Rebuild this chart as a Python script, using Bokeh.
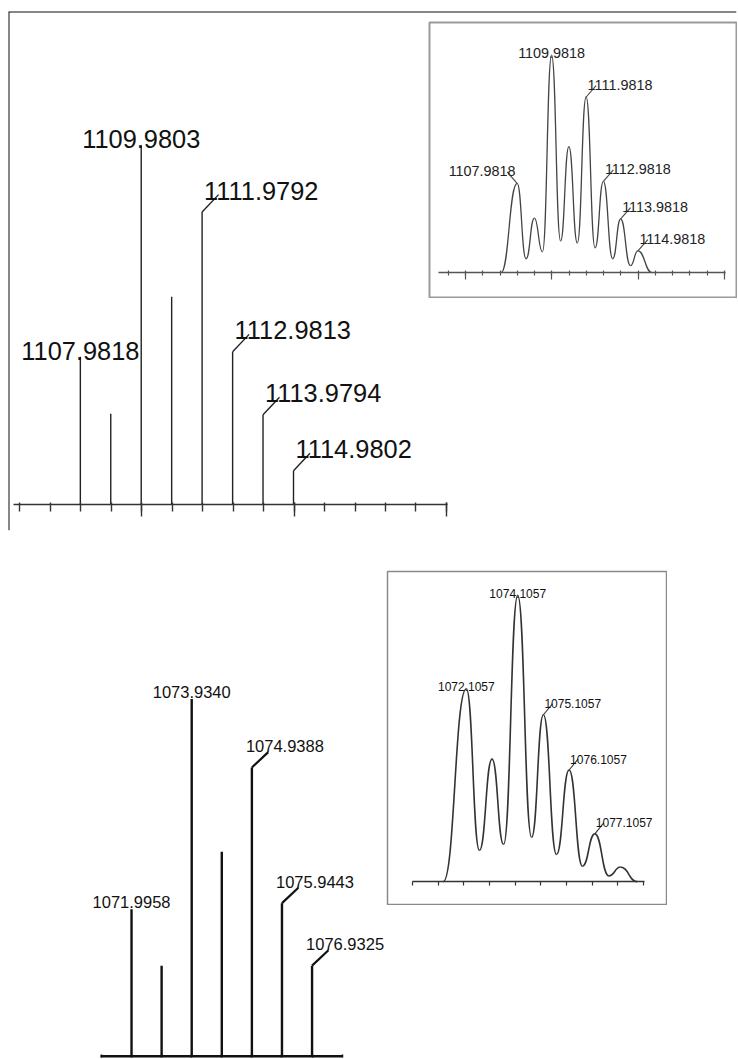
from bokeh.plotting import figure
from bokeh.models import ColumnDataSource, LinearAxis, FixedTicker, Range1d, Span, GridBox
from bokeh.core.properties import value
from bokeh.embed import file_html
from bokeh.resources import INLINE

FONT = "Liberation Sans"

# ---------------- data ----------------
# top: stick spectrum (relative intensity, %)
top_stick_mz = [1107.9818, 1108.98, 1109.9803, 1110.98, 1111.9792, 1112.9813, 1113.9794, 1114.9802]
top_stick_int = [41.1, 25.3, 100.0, 57.8, 81.4, 42.5, 25.0, 9.4]
top_stick_labels = ["1107.9818", "", "1109.9803", "", "1111.9792", "1112.9813", "1113.9794", "1114.9802"]
top_stick_kind = ["c", "", "c", "", "r", "r", "r", "r"]

# top: inset profile (peaks and valleys)
top_profile_mz = [1107.05, 1107.98, 1108.50, 1108.98, 1109.45, 1109.98, 1110.50, 1110.98, 1111.47,
                  1111.98, 1112.50, 1112.98, 1113.52, 1113.98, 1114.55, 1114.98, 1115.80]
top_profile_int = [0.0, 41.1, 6.4, 25.1, 9.6, 100.0, 14.6, 58.0, 13.7,
                   80.8, 11.4, 42.0, 6.4, 24.7, 3.2, 10.0, 0.0]
top_profile_labels = ["1107.9818", "1109.9818", "1111.9818", "1112.9818", "1113.9818", "1114.9818"]
top_profile_kind = ["l", "c", "r", "r", "r", "r"]

# bottom: stick spectrum
bot_stick_mz = [1072.0, 1073.0, 1074.0, 1075.0, 1076.0, 1077.0, 1078.0]
bot_stick_int = [41.1, 25.3, 100.0, 57.2, 80.8, 42.8, 25.3]
bot_stick_labels = ["1071.9958", "", "1073.9340", "", "1074.9388", "1075.9443", "1076.9325"]
bot_stick_kind = ["c", "", "c", "", "r", "r", "r"]

# bottom: inset profile
bot_profile_mz = [1071.20, 1072.10, 1072.61, 1073.10, 1073.55, 1074.10, 1074.64, 1075.10,
                  1075.61, 1076.10, 1076.62, 1077.10, 1077.65, 1078.10, 1078.75]
bot_profile_int = [0.0, 67.4, 10.9, 42.8, 13.0, 100.0, 15.5, 58.3,
                   9.5, 39.0, 5.4, 16.7, 2.0, 5.1, 0.0]
bot_profile_labels = ["1072.1057", "1074.1057", "1075.1057", "1076.1057", "1077.1057"]
bot_profile_kind = ["c", "c", "r", "r", "r"]

# axis ticks
top_major = [1110, 1115, 1120]
top_minor = list(range(1106, 1121))
inset_top_major = [1105, 1110, 1115, 1120]
inset_top_minor = list(range(1104, 1121))
bot_major = list(range(1071, 1080))
inset_bot_major = list(range(1070, 1080))


# ---------------- helpers ----------------
def xr(anchor_val, anchor_px, scale, lo_px, hi_px):
    return Range1d(anchor_val - (anchor_px - lo_px) / scale, anchor_val + (hi_px - anchor_px) / scale)


def yr(zero_px, scale, top_px, bottom_px):
    return Range1d(-(bottom_px - zero_px) / scale, (zero_px - top_px) / scale)


def make_fig(w, h, x_range, y_range, border, outline=None, outline_w=1.0):
    p = figure(width=w, height=h, x_range=x_range, y_range=y_range,
               x_axis_type=None, y_axis_type=None,
               toolbar_location=None, output_backend="svg",
               min_border_top=border[0], min_border_right=border[1],
               min_border_bottom=border[2], min_border_left=border[3],
               background_fill_color="white", border_fill_color="white",
               outline_line_color=outline, outline_line_width=outline_w)
    return p


def add_axis(p, ticks, minor, bounds, color, width, maj_in, maj_out, min_in, min_out, tick_w):
    ax = LinearAxis(fixed_location=0, bounds=bounds,
                    ticker=FixedTicker(ticks=ticks, minor_ticks=minor),
                    axis_line_color=color, axis_line_width=width,
                    major_tick_line_color=color, major_tick_line_width=tick_w,
                    minor_tick_line_color=color, minor_tick_line_width=tick_w,
                    major_tick_in=maj_in, major_tick_out=maj_out,
                    minor_tick_in=min_in, minor_tick_out=min_out,
                    major_label_overrides={t: "" for t in ticks},
                    major_label_text_font_size="0px")
    p.add_layout(ax, "below")


def add_labels(p, xs, ys, texts, kinds, size, color, xscale, yscale,
               gap, lead_dx, lead_dy, lab_dx, lab_dy, lcolor, lwidth):
    c = dict(x=[], y=[], t=[])
    r = dict(x=[], y=[], t=[])
    l = dict(x=[], y=[], t=[])
    seg = dict(x0=[], y0=[], x1=[], y1=[])
    for x, y, t, k in zip(xs, ys, texts, kinds):
        if not t:
            continue
        if k == "c":
            c["x"].append(x); c["y"].append(y); c["t"].append(t)
        else:
            sgn = 1 if k == "r" else -1
            x1 = x + sgn * lead_dx / xscale
            y1 = y + lead_dy / yscale
            seg["x0"].append(x); seg["y0"].append(y); seg["x1"].append(x1); seg["y1"].append(y1)
            d = r if k == "r" else l
            d["x"].append(x); d["y"].append(y1); d["t"].append(t)
    common = dict(text_font=value(FONT), text_font_size=value(size), text_color=color,
                  text_baseline="alphabetic")
    if seg["x0"]:
        p.segment(x0="x0", y0="y0", x1="x1", y1="y1", source=ColumnDataSource(seg),
                  line_color=lcolor, line_width=lwidth)
    if c["x"]:
        p.text(x="x", y="y", text="t", source=ColumnDataSource(c), text_align="center",
               y_offset=-gap, **common)
    if r["x"]:
        p.text(x="x", y="y", text="t", source=ColumnDataSource(r), text_align="left",
               x_offset=lab_dx, y_offset=-lab_dy, **common)
    if l["x"]:
        p.text(x="x", y="y", text="t", source=ColumnDataSource(l), text_align="right",
               x_offset=-lab_dx, y_offset=-lab_dy, **common)


def add_profile(p, xs, ys, color, width, k=0.5):
    x0, x1, y0, y1 = xs[:-1], xs[1:], ys[:-1], ys[1:]
    cx0 = [a + k * (b - a) for a, b in zip(x0, x1)]
    cx1 = [b - k * (b - a) for a, b in zip(x0, x1)]
    p.bezier(x0=x0, y0=y0, x1=x1, y1=y1, cx0=cx0, cy0=y0, cx1=cx1, cy1=y1,
             line_color=color, line_width=width)


def peak_heights(labels, pmz, pint):
    out_x, out_y = [], []
    for t in labels:
        v = float(t)
        i = min(range(len(pmz)), key=lambda j: abs(pmz[j] - v))
        out_x.append(pmz[i]); out_y.append(pint[i])
    return out_x, out_y


# Page coordinates below are absolute (the page template has no body margin).

# ---------------- panel A: top stick spectrum ----------------
AXS, AYS = 30.5, 3.6
A = make_fig(731, 523, xr(1106, 19.5, AXS, 8, 737), yr(505, AYS, 11, 531), (3, 0, 0, 2))
A.segment(x0=top_stick_mz, y0=[0] * len(top_stick_mz), x1=top_stick_mz, y1=top_stick_int,
          line_color="#222222", line_width=1.4)
add_axis(A, top_major, top_minor, (1105.8, 1120.05), "#333333", 1.5, 2, 12, 2, 7, 1.4)
add_labels(A, top_stick_mz, top_stick_int, top_stick_labels, top_stick_kind, "25.4px", "#111111",
           AXS, AYS, 6, 16.5, 17.5, 2, 4, "#222222", 1.4)
A.add_layout(Span(location=A.y_range.end, dimension="width", line_color="#111111", line_width=2))
A.add_layout(Span(location=A.x_range.start, dimension="height", line_color="#111111", line_width=2))

# ---------------- panel B: top inset profile ----------------
BXS, BYS = 17.31, 2.19
B = make_fig(310, 279, xr(1104, 447, BXS, 428, 736), yr(272, BYS, 20, 297), (1, 1, 1, 1),
             outline="#9a9a9a", outline_w=2)
add_axis(B, inset_top_major, inset_top_minor, (1103.45, 1120.05), "#555555", 1.3, 1, 7, 2, 3, 1.2)
add_profile(B, top_profile_mz, top_profile_int, "#444444", 1.3)
bx, by = peak_heights(top_profile_labels, top_profile_mz, top_profile_int)
add_labels(B, bx, by, top_profile_labels, top_profile_kind, "14.4px", "#222222",
           BXS, BYS, 2, 10, 11.5, 1.5, 1, "#444444", 1.1)

# ---------------- panel C: bottom stick spectrum ----------------
CXS, CYS = 30.33, 3.6
C = make_fig(377, 498, xr(1072, 130, CXS, 8, 385), yr(1056.5, CYS, 560, 1058), (0, 0, 0, 0))
C.segment(x0=bot_stick_mz, y0=[0] * len(bot_stick_mz), x1=bot_stick_mz, y1=bot_stick_int,
          line_color="#111111", line_width=2.4)
add_axis(C, bot_major, [], (1070.98, 1079.02), "#111111", 3, 2, 2, 0, 0, 1.5)
add_labels(C, bot_stick_mz, bot_stick_int, bot_stick_labels, bot_stick_kind, "16.5px", "#111111",
           CXS, CYS, 7, 16.5, 15.5, -6, 6, "#111111", 2.2)

# ---------------- panel D: bottom inset profile ----------------
DXS, DYS = 25.78, 2.88
D = make_fig(282, 337, xr(1070, 411, DXS, 386, 666), yr(881, DYS, 569, 904), (1, 1, 1, 1),
             outline="#8a8a8a", outline_w=1.5)
add_axis(D, inset_bot_major, [], (1070.0, 1079.05), "#333333", 1.3, 0, 4, 0, 0, 1.2)
add_profile(D, bot_profile_mz, bot_profile_int, "#333333", 1.6)
dx_, dy_ = peak_heights(bot_profile_labels, bot_profile_mz, bot_profile_int)
add_labels(D, dx_, dy_, bot_profile_labels, bot_profile_kind, "12px", "#111111",
           DXS, DYS, 2, 9, 11, 1, 0, "#333333", 1.1)

# ---------------- page layout (panels placed by margins in one grid cell) ----------------
A.margin = (8, 0, 0, 6)
B.margin = (19, 0, 0, 427)
C.margin = (560, 0, 0, 8)
D.margin = (568, 0, 0, 385)
page = GridBox(children=[(A, 0, 0), (C, 0, 0), (D, 0, 0), (B, 0, 0)])

open("out.html", "w").write(file_html(page, INLINE))
